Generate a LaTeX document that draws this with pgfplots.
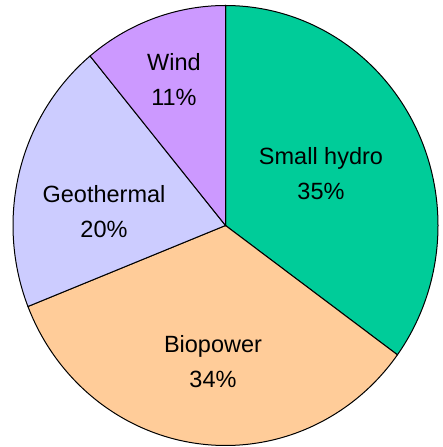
\documentclass[border=0pt]{standalone}
\usepackage{pgfplots}
\pgfplotsset{compat=1.18}
\usepackage{fontspec}
\setmainfont{Liberation Sans}
\definecolor{cHydro}{RGB}{0,204,153}
\definecolor{cBio}{RGB}{255,204,153}
\definecolor{cGeo}{RGB}{204,204,255}
\definecolor{cWind}{RGB}{204,153,255}
% shares in percent
\def\vHydro{35}
\def\vBio{34}
\def\vGeo{20}
\def\vWind{11}
\begin{document}
\begin{tikzpicture}
\begin{axis}[
  scale only axis, width=443pt, height=447pt,
  xmin=-1.0612, xmax=1.0235, ymin=-1.0068, ymax=1.025,
  hide axis, clip=false,
  every axis plot/.append style={draw=black, line width=1pt, samples=120, smooth},
]
\addplot[draw=none, fill=none, forget plot] coordinates {(-1.0612,-1.0068) (1.0235,1.025)};
\addplot[fill=cHydro, domain={90-3.6*\vHydro}:90] ({cos(x)},{sin(x)}) -- (axis cs:0,0) -- cycle;
\addplot[fill=cBio, domain={90-3.6*(\vHydro+\vBio)}:{90-3.6*\vHydro}] ({cos(x)},{sin(x)}) -- (axis cs:0,0) -- cycle;
\addplot[fill=cGeo, domain={90-3.6*(\vHydro+\vBio+\vGeo)}:{90-3.6*(\vHydro+\vBio)}] ({cos(x)},{sin(x)}) -- (axis cs:0,0) -- cycle;
\addplot[fill=cWind, domain={90-3.6*100}:{90-3.6*(\vHydro+\vBio+\vGeo)}] ({cos(x)},{sin(x)}) -- (axis cs:0,0) -- cycle;
\tikzset{lbl/.style={align=center, font=\fontsize{23.5}{35}\selectfont, inner sep=0pt}}
\node[lbl] at (axis cs:-0.2424,0.6636) {Wind\\11\%};
\node[lbl] at (axis cs:0.4494,0.2364) {Small hydro\\35\%};
\node[lbl] at (axis cs:-0.5718,0.0636) {Geothermal\\20\%};
\node[lbl] at (axis cs:-0.0588,-0.6205) {Biopower\\34\%};
\end{axis}
\end{tikzpicture}
\end{document}
